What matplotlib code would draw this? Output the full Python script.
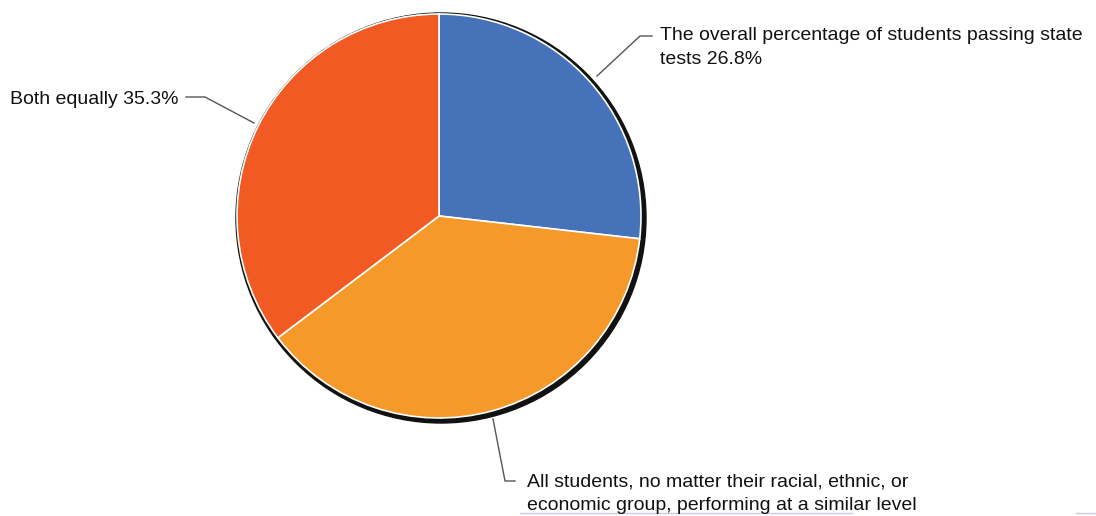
import matplotlib.pyplot as plt
from matplotlib.patches import Circle

# Data
labels = ['The overall percentage of students passing state\ntests 26.8%',
          'All students, no matter their racial, ethnic, or\neconomic group, performing at a similar level',
          'Both equally 35.3%']
values = [26.8, 37.9, 35.3]
colors = ['#4672b9', '#f59a2a', '#f15a23']

W, H = 1096, 516
cx, cy, r = 439, H - 216, 202

fig = plt.figure(figsize=(W / 100, H / 100), dpi=100)
ax = fig.add_axes([0, 0, 1, 1])

# shadow behind the pie
ax.add_patch(Circle((cx + 2, cy - 2), r + 3, color='#111111', zorder=1))

ax.pie(values, colors=colors, startangle=90, counterclock=False,
       center=(cx, cy), radius=r, frame=True,
       wedgeprops=dict(edgecolor='white', linewidth=1.2, zorder=2))
ax.set_xlim(0, W)
ax.set_ylim(0, H)
ax.set_aspect('equal')
ax.axis('off')

lc = '#555555'
fs = 14
fam = ['Liberation Sans', 'DejaVu Sans']


def label(x, y, s):
    # one text per line, 24 px apart
    for i, line in enumerate(s.split('\n')):
        ax.text(x, H - y - 24 * i, line, fontsize=fs, family=fam,
                va='center', color='#111111')


# top right label
ax.plot([597, 640, 652], [H - 76, H - 36, H - 36], color=lc, lw=1)
label(660, 36, labels[0])
# bottom label
ax.plot([493, 505, 515], [H - 419, H - 481, H - 481], color=lc, lw=1)
label(527, 482, labels[1])
# left label
ax.plot([186, 205, 254], [H - 97, H - 97, H - 123], color=lc, lw=1)
label(10, 99, labels[2])

# faint lines at the bottom edge
ax.plot([520, 852], [H - 513, H - 513], color='#c8cbe8', lw=1)
ax.plot([1076, 1096], [H - 513, H - 513], color='#c8cbe8', lw=1)

fig.savefig('out.png', dpi=100)
